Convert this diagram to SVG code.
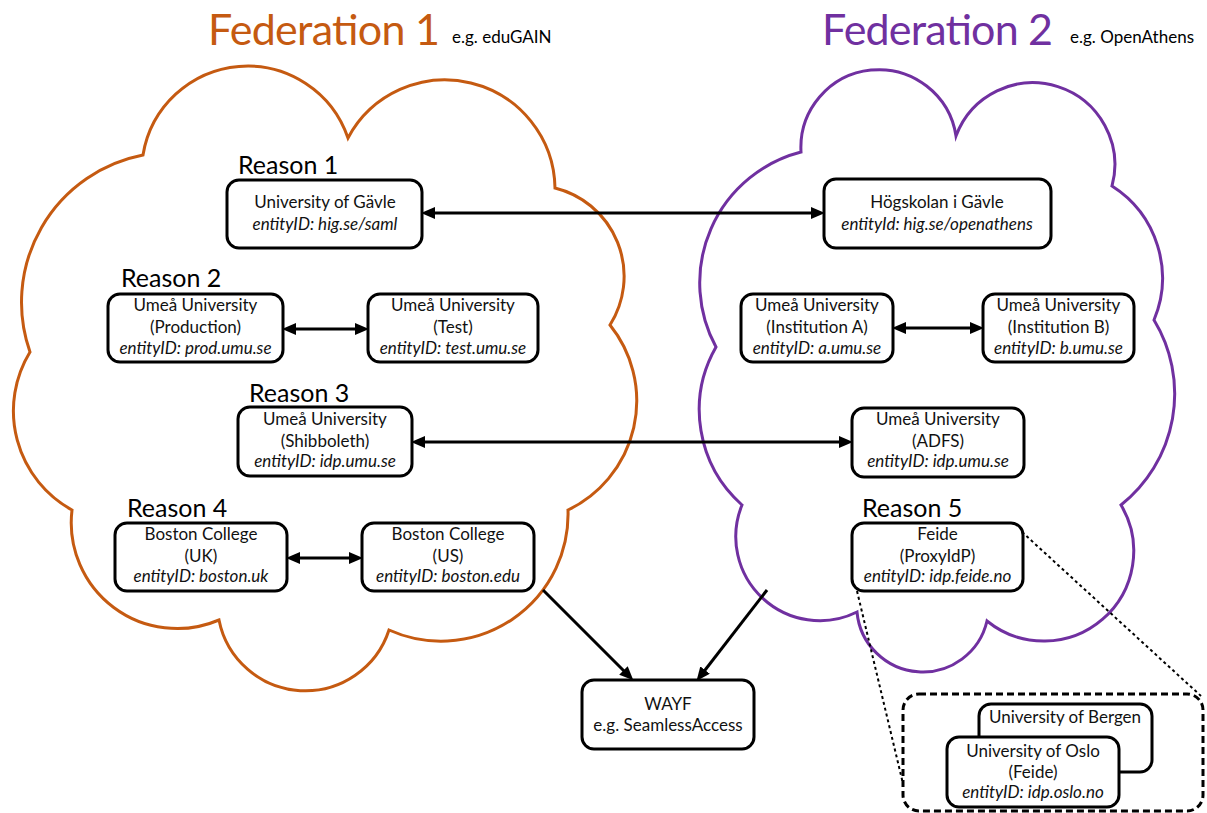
<svg xmlns="http://www.w3.org/2000/svg" width="1207" height="813" viewBox="0 0 1207 813">
<style>
  .cloud1{fill:none;stroke:#C55A11;stroke-width:3}
  .cloud2{fill:none;stroke:#7030A0;stroke-width:3}
  .box{fill:#fff;stroke:#000;stroke-width:3}
  .t{font-family:Lato,"Liberation Sans",sans-serif;font-size:17px;fill:#111;text-anchor:middle}
  .i{font-style:italic}
  .reason{font-family:Lato,"Liberation Sans",sans-serif;font-size:25px;fill:#000}
  .fed{font-family:Lato,"Liberation Sans",sans-serif;font-size:43px}
  .eg{font-family:Lato,"Liberation Sans",sans-serif;font-size:17px;fill:#000}
  .arrow{stroke:#000;stroke-width:3;fill:none}
  .dot{stroke:#000;stroke-width:2;stroke-dasharray:3 3;fill:none}
  .dash{fill:#fff;stroke:#000;stroke-width:3;stroke-dasharray:7 4}
</style>
<defs>
  <marker id="ah" markerUnits="userSpaceOnUse" markerWidth="14" markerHeight="12" viewBox="0 0 14 12" refX="5" refY="6" orient="auto-start-reverse">
    <path d="M0,0 L14,6 L0,12 z" fill="#000"/>
  </marker>
</defs>
<rect width="1207" height="813" fill="#fff"/>

<g id="federation1">
  <path class="cloud1" d="M143,155 A106 106 0 0 1 348,138 A110 110 0 0 1 555,188 A91 91 0 0 1 610,325 A121 121 0 0 1 568,510 A127 127 0 0 1 389,630 A88 88 0 0 1 219,620 A106 106 0 0 1 72,510 A113 113 0 0 1 30,352 A150 150 0 0 1 143,155 Z"/>
  <text class="fed" x="208" y="45" fill="#C55A11" textLength="232">Federation 1</text>
  <text class="eg" x="452" y="43">e.g. eduGAIN</text>
</g>
<g id="federation2">
  <path class="cloud2" d="M801,152 A78 78 0 0 1 956,136 A82 82 0 0 1 1112,186 A109 109 0 0 1 1154,320 A142 142 0 0 1 1121,505 A90 90 0 0 1 987,621 A66 66 0 0 1 857,612 A84 84 0 0 1 742,505 A127 127 0 0 1 716,347 A135 135 0 0 1 801,152 Z"/>
  <text class="fed" x="822" y="45" fill="#7030A0" textLength="231">Federation 2</text>
  <text class="eg" x="1070" y="43">e.g. OpenAthens</text>
</g>

<g id="labels">
  <text class="reason" x="238" y="174">Reason 1</text>
  <text class="reason" x="121" y="287">Reason 2</text>
  <text class="reason" x="249" y="402">Reason 3</text>
  <text class="reason" x="127" y="517">Reason 4</text>
  <text class="reason" x="862" y="517">Reason 5</text>
</g>

<g id="connectors">
  <line class="arrow" x1="430" y1="213" x2="816" y2="213" marker-start="url(#ah)" marker-end="url(#ah)"/>
  <line class="arrow" x1="291" y1="329" x2="360" y2="329" marker-start="url(#ah)" marker-end="url(#ah)"/>
  <line class="arrow" x1="901" y1="328" x2="975" y2="328" marker-start="url(#ah)" marker-end="url(#ah)"/>
  <line class="arrow" x1="420" y1="442" x2="844" y2="442" marker-start="url(#ah)" marker-end="url(#ah)"/>
  <line class="arrow" x1="295" y1="558" x2="354" y2="558" marker-start="url(#ah)" marker-end="url(#ah)"/>
  <line class="arrow" x1="543" y1="590" x2="627" y2="674" marker-end="url(#ah)"/>
  <line class="arrow" x1="767" y1="590" x2="702" y2="674" marker-end="url(#ah)"/>
  <line class="dot" x1="857" y1="591" x2="905" y2="792"/>
  <line class="dot" x1="1022" y1="532" x2="1201" y2="696"/>
</g>

<g id="n-gavle">
  <rect class="box" x="227" y="180" width="195" height="68" rx="12"/>
  <text class="t" x="325" y="208">University of Gävle</text>
  <text class="t i" x="325" y="230">entityID: hig.se/saml</text>
</g>
<g id="n-hogskolan">
  <rect class="box" x="824" y="179" width="227" height="69" rx="12"/>
  <text class="t" x="937" y="208">Högskolan i Gävle</text>
  <text class="t i" x="937" y="230">entityId: hig.se/openathens</text>
</g>
<g id="n-umu-prod">
  <rect class="box" x="108" y="294" width="175" height="68" rx="12"/>
  <text class="t" x="195.5" y="311">Umeå University</text>
  <text class="t" x="195.5" y="333">(Production)</text>
  <text class="t i" x="195.5" y="354">entityID: prod.umu.se</text>
</g>
<g id="n-umu-test">
  <rect class="box" x="368" y="294" width="170" height="68" rx="12"/>
  <text class="t" x="453" y="311">Umeå University</text>
  <text class="t" x="453" y="333">(Test)</text>
  <text class="t i" x="453" y="354">entityID: test.umu.se</text>
</g>
<g id="n-umu-a">
  <rect class="box" x="741" y="294" width="152" height="68" rx="12"/>
  <text class="t" x="817" y="311">Umeå University</text>
  <text class="t" x="817" y="333">(Institution A)</text>
  <text class="t i" x="817" y="354">entityID: a.umu.se</text>
</g>
<g id="n-umu-b">
  <rect class="box" x="983" y="294" width="151" height="68" rx="12"/>
  <text class="t" x="1058.5" y="311">Umeå University</text>
  <text class="t" x="1058.5" y="333">(Institution B)</text>
  <text class="t i" x="1058.5" y="354">entityID: b.umu.se</text>
</g>
<g id="n-umu-shib">
  <rect class="box" x="238" y="407" width="174" height="69" rx="12"/>
  <text class="t" x="325" y="425">Umeå University</text>
  <text class="t" x="325" y="447">(Shibboleth)</text>
  <text class="t i" x="325" y="467">entityID: idp.umu.se</text>
</g>
<g id="n-umu-adfs">
  <rect class="box" x="852" y="408" width="172" height="69" rx="12"/>
  <text class="t" x="938" y="425">Umeå University</text>
  <text class="t" x="938" y="447">(ADFS)</text>
  <text class="t i" x="938" y="467">entityID: idp.umu.se</text>
</g>
<g id="n-boston-uk">
  <rect class="box" x="115" y="523" width="172" height="68" rx="12"/>
  <text class="t" x="201" y="540">Boston College</text>
  <text class="t" x="201" y="562">(UK)</text>
  <text class="t i" x="201" y="582">entityID: boston.uk</text>
</g>
<g id="n-boston-us">
  <rect class="box" x="362" y="523" width="172" height="68" rx="12"/>
  <text class="t" x="448" y="540">Boston College</text>
  <text class="t" x="448" y="562">(US)</text>
  <text class="t i" x="448" y="582">entityID: boston.edu</text>
</g>
<g id="n-feide">
  <rect class="box" x="852" y="523" width="171" height="68" rx="12"/>
  <text class="t" x="937.5" y="540">Feide</text>
  <text class="t" x="937.5" y="562">(ProxyIdP)</text>
  <text class="t i" x="937.5" y="582">entityID: idp.feide.no</text>
</g>
<g id="n-wayf">
  <rect class="box" x="582" y="680" width="172" height="69" rx="12"/>
  <text class="t" x="668" y="710">WAYF</text>
  <text class="t" x="668" y="731">e.g. SeamlessAccess</text>
</g>
<g id="n-inset">
  <rect class="dash" x="903" y="694" width="300" height="117" rx="16"/>
</g>
<g id="n-bergen">
  <rect class="box" x="979" y="704" width="173" height="68" rx="12"/>
  <text class="t" x="1065" y="723">University of Bergen</text>
</g>
<g id="n-oslo">
  <rect class="box" x="947" y="737" width="172" height="70" rx="12"/>
  <text class="t" x="1033" y="757">University of Oslo</text>
  <text class="t" x="1033" y="778">(Feide)</text>
  <text class="t i" x="1033" y="798">entityID: idp.oslo.no</text>
</g>
</svg>
